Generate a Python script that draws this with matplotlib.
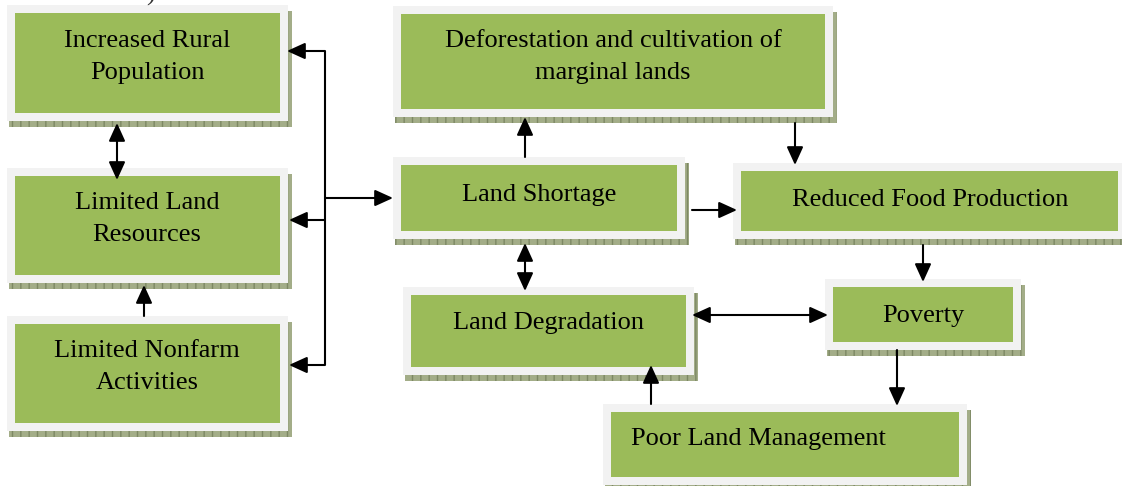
import matplotlib.pyplot as plt
from matplotlib.patches import Rectangle, FancyArrowPatch, ArrowStyle

# box labels (one line per list entry)
labels = {
    "rural": ["Increased Rural", "Population"],
    "land_res": ["Limited Land", "Resources"],
    "nonfarm": ["Limited Nonfarm", "Activities"],
    "defor": ["Deforestation and cultivation of", "marginal lands"],
    "shortage": ["Land Shortage"],
    "food": ["Reduced Food Production"],
    "poverty": ["Poverty"],
    "degrad": ["Land Degradation"],
    "mgmt": ["Poor Land Management"],
}

# causal links: (from, to, both directions)
links = [
    ("rural", "land_res", True),
    ("nonfarm", "land_res", False),
    ("bus", "rural", False),
    ("bus", "land_res", False),
    ("bus", "nonfarm", False),
    ("bus", "shortage", False),
    ("shortage", "defor", False),
    ("defor", "food", False),
    ("shortage", "food", False),
    ("shortage", "degrad", True),
    ("food", "poverty", False),
    ("degrad", "poverty", True),
    ("poverty", "mgmt", False),
    ("mgmt", "degrad", False),
]

# ---- layout (pixels, y down) ----
# outer frame x0, y0, x1, y1
frames = {
    "rural": (7, 5, 288, 121),
    "land_res": (7, 168, 288, 283),
    "nonfarm": (7, 316, 288, 431),
    "defor": (393, 6, 833, 117),
    "shortage": (393, 157, 685, 239),
    "food": (733, 163, 1126, 239),
    "poverty": (825, 279, 1021, 350),
    "degrad": (403, 287, 694, 375),
    "mgmt": (603, 404, 967, 485),
}
# text anchor: x, first baseline, align
text_pos = {
    "rural": (147, 47, "center"),
    "land_res": (147, 209, "center"),
    "nonfarm": (147, 357, "center"),
    "defor": (613, 47, "center"),
    "shortage": (539, 201, "center"),
    "food": (930, 206, "center"),
    "poverty": (923, 322, "center"),
    "degrad": (549, 329, "center"),
    "mgmt": (631, 445, "left"),
}
line_gap = 32

# arrow routes: start point -> end point (arrow head at end)
routes = {
    ("rural", "land_res"): ((117, 123), (117, 180)),
    ("nonfarm", "land_res"): ((144, 316), (144, 285)),
    ("bus", "rural"): ((325, 51), (287, 51)),
    ("bus", "land_res"): ((325, 220), (289, 220)),
    ("bus", "nonfarm"): ((325, 365), (289, 365)),
    ("bus", "shortage"): ((325, 198), (393, 198)),
    ("shortage", "defor"): ((525, 157), (525, 117)),
    ("defor", "food"): ((795, 123), (795, 165)),
    ("shortage", "food"): ((692, 210), (737, 210)),
    ("shortage", "degrad"): ((525, 243), (525, 291)),
    ("food", "poverty"): ((923, 245), (923, 282)),
    ("degrad", "poverty"): ((692, 315), (828, 315)),
    ("poverty", "mgmt"): ((897, 350), (897, 406)),
    ("mgmt", "degrad"): ((651, 404), (651, 365)),
}
bus_x, bus_top, bus_bottom = 325, 51, 365

W, H = 1122, 486
fig = plt.figure(figsize=(W / 100, H / 100), dpi=100)
ax = fig.add_axes([0, 0, 1, 1])
ax.set_xlim(0, W)
ax.set_ylim(H, 0)
ax.axis("off")

green = "#9bbb59"
frame_col = "#f2f2f2"
shadow_col = "#a3ad88"
pad = 8
fsize = 19

for key, (x0, y0, x1, y1) in frames.items():
    sh = Rectangle((x0 + 2, y0 + 6), x1 - x0 + 2, y1 - y0, facecolor=shadow_col,
                   edgecolor="#7d8864", hatch="||", linewidth=0, zorder=1)
    ax.add_patch(sh)
    ax.add_patch(Rectangle((x0, y0), x1 - x0, y1 - y0, facecolor=frame_col,
                           edgecolor="none", zorder=2))
    ax.add_patch(Rectangle((x0 + pad, y0 + pad), x1 - x0 - 2 * pad, y1 - y0 - 2 * pad,
                           facecolor=green, edgecolor="none", zorder=3))
    tx, ty, ha = text_pos[key]
    for i, line in enumerate(labels[key]):
        ax.text(tx, ty + i * line_gap, line, ha=ha, va="baseline",
                fontsize=fsize, family="Liberation Serif", color="black", zorder=5)

# bus line on the left
ax.plot([bus_x, bus_x], [bus_top, bus_bottom], color="black", lw=1.5,
        solid_capstyle="butt", zorder=4)

for src, dst, both in links:
    p0, p1 = routes[(src, dst)]
    style = ArrowStyle("<|-|>" if both else "-|>", head_length=1.1, head_width=0.5)
    arr = FancyArrowPatch(p0, p1, arrowstyle=style, mutation_scale=10,
                          color="black", lw=1.5, shrinkA=0, shrinkB=0, zorder=4)
    ax.add_patch(arr)

# cut-off caption fragment at the top edge
ax.text(146, 1, ")", fontsize=fsize, family="Liberation Serif", ha="left",
        va="baseline", color="#333333", zorder=5)

fig.savefig("out.png", dpi=100)
